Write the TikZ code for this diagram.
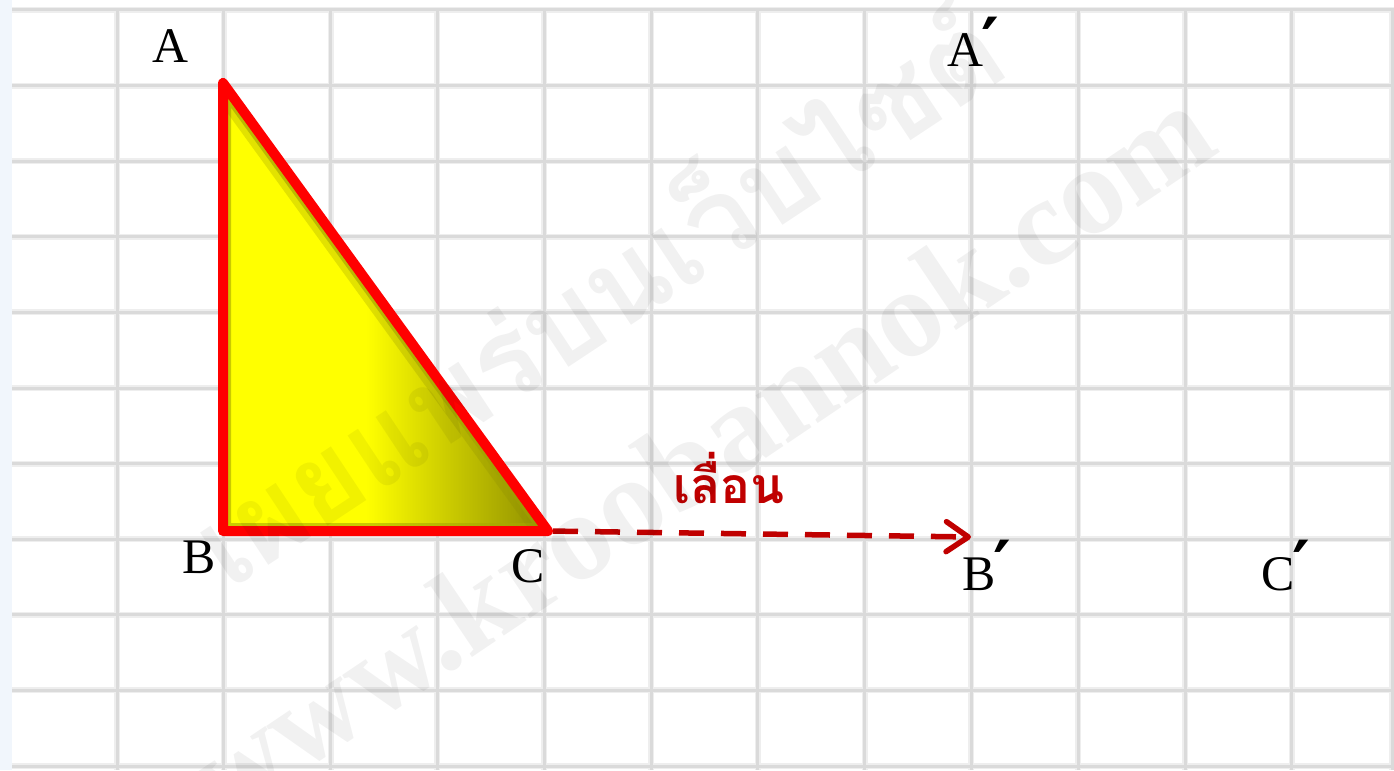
\documentclass[tikz,border=0pt]{standalone}
\usepackage{fontspec}
\setmainfont{Liberation Serif}
\newfontfamily\thaifont[Script=Thai]{Loma}
\newfontfamily\primefont{DejaVu Sans}
\usetikzlibrary{arrows.meta}
\definecolor{gridhalo}{HTML}{EEEEEE}
\definecolor{gridcorecol}{HTML}{DADADA}
\definecolor{trired}{HTML}{FF0000}
\definecolor{slidered}{HTML}{C00000}
\definecolor{olivedark}{HTML}{8C8C00}
\definecolor{oliveband}{HTML}{A8A800}
\definecolor{edgeblue}{HTML}{F1F6FC}
\pgfdeclarehorizontalshading{trishade}{100bp}{color(0bp)=(yellow); color(25bp)=(yellow); color(47bp)=(yellow); color(75bp)=(olivedark); color(100bp)=(olivedark)}
\newcommand\prm{\kern-0.03em\raisebox{0.01em}{\primefont\bfseries\fontsize{68}{70}\selectfont ′}}
\begin{document}
\begin{tikzpicture}[x=1bp,y=-1bp,
  hhalo/.style={line width=6bp,draw=gridhalo},
  hcore/.style={line width=3bp,draw=gridcorecol},
  lbl/.style={font=\fontsize{50}{60}\selectfont,inner sep=0pt,anchor=base west},
  wm/.style={inner sep=0pt,text=black,text opacity=0.055}]
\useasboundingbox (0,0) rectangle (1394,770);
\fill[white] (0,0) rectangle (1394,770);
\fill[edgeblue] (0,0) rectangle (12,770);
% grid
\foreach \i in {0,...,10}{
  \draw[hhalo] (12,10+75.6*\i) -- (1394,10+75.6*\i);
}
\foreach \i in {0,...,11}{
  \draw[hhalo] (117+106.8*\i,10) -- (117+106.8*\i,770);
}
\draw[hhalo] (1392,10) -- (1392,770);
\foreach \i in {0,...,10}{
  \draw[hcore] (12,10+75.6*\i) -- (1394,10+75.6*\i);
}
\foreach \i in {0,...,11}{
  \draw[hcore] (117+106.8*\i,10) -- (117+106.8*\i,770);
}
\draw[hcore] (1392,10) -- (1392,770);
% triangle
\coordinate (A) at (223,83);
\coordinate (B) at (223,531);
\coordinate (C) at (548,531);
\coordinate (Bp) at (971,537);
\draw[slidered, line width=5.5bp, dash pattern=on 25bp off 17bp, shorten <=5bp,
  -{Straight Barb[length=22bp,width=30bp,line cap=round,line join=round]}] (C) -- (Bp);
\shade[shading=trishade] (A) -- (B) -- (C) -- cycle;
\begin{scope}
  \clip (A) -- (B) -- (C) -- cycle;
  \draw[oliveband, line width=16bp, opacity=0.6] (A) -- (B) -- (C) -- cycle;
  \draw[olivedark, line width=28bp, opacity=0.25] (A) -- (C);
\end{scope}
\draw[trired, line width=10bp, line join=round] (A) -- (B) -- (C) -- cycle;
% labels
\node[lbl] (lA) at (152,63) {A};
\node[lbl] (lB) at (182,573) {B};
\node[lbl] (lC) at (511,582) {C};
\node[lbl] (lAp) at (947,67) {A\prm};
\node[lbl] (lBp) at (962,590) {B\prm};
\node[lbl] (lCp) at (1261,590) {C\prm};
\node[inner sep=0pt, text=slidered, font=\thaifont\bfseries\fontsize{50}{60}\selectfont] (slide) at (729,478) {เลื่อน};
% watermark
\node[wm, rotate=33.5] (wm1) at (592,288) {\resizebox{940bp}{!}{\thaifont\bfseries เผยแพร่บนเว็บไซต์}};
\node[wm, rotate=34, anchor=base] (wm2) at (723,488) {\fontsize{126}{130}\selectfont\bfseries www.kroobannok.com};
\end{tikzpicture}
\end{document}
